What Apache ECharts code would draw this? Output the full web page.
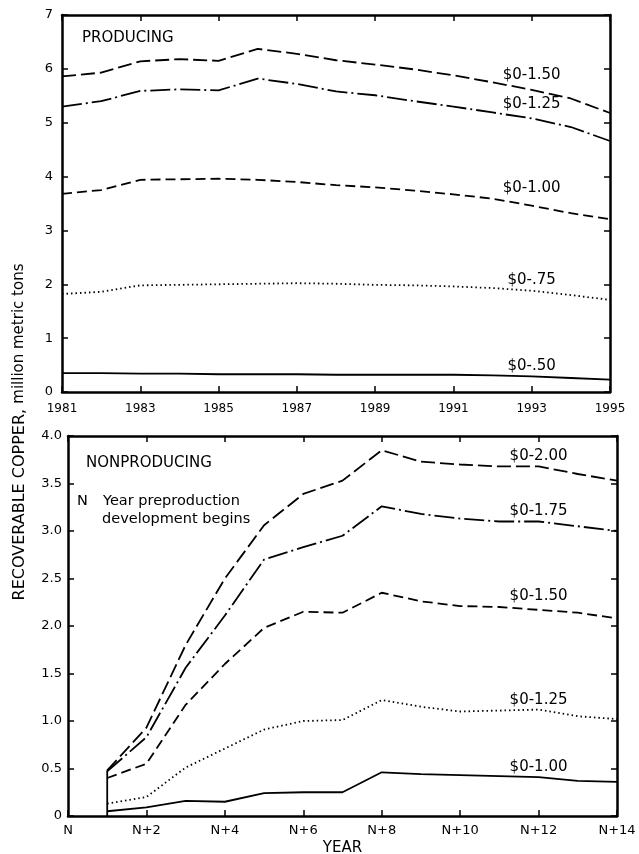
<!DOCTYPE html>
<html>
<head>
<meta charset="utf-8">
<script src="https://cdn.jsdelivr.net/npm/echarts@6/dist/echarts.min.js"></script>
<style>
html,body{margin:0;padding:0;background:#fff;}
#chart{width:639px;height:854px;}
</style>
</head>
<body>
<div id="chart"></div>
<script>
// ---------- data ----------
const prodYears = ['1981','1982','1983','1984','1985','1986','1987','1988','1989','1990','1991','1992','1993','1994','1995'];
const prodNames = ['$0-1.50','$0-1.25','$0-1.00','$0-.75','$0-.50'];
const prod150 = [5.86,5.93,6.14,6.18,6.15,6.37,6.28,6.16,6.08,5.99,5.88,5.75,5.61,5.45,5.18];
const prod125 = [5.30,5.40,5.59,5.62,5.60,5.82,5.72,5.58,5.51,5.40,5.30,5.19,5.08,4.92,4.66];
const prod100 = [3.68,3.75,3.94,3.95,3.96,3.94,3.90,3.84,3.80,3.74,3.67,3.59,3.46,3.32,3.21];
const prod075 = [1.82,1.86,1.98,1.99,2.00,2.01,2.02,2.01,1.99,1.98,1.96,1.93,1.88,1.80,1.71];
const prod050 = [0.35,0.35,0.34,0.34,0.33,0.33,0.33,0.32,0.32,0.32,0.32,0.31,0.29,0.26,0.23];
const prodYLabels = ['0','1','2','3','4','5','6','7'];

const nonX = [1,2,3,4,5,6,7,8,9,10,11,12,13,14];
const nonNames = ['$0-2.00','$0-1.75','$0-1.50','$0-1.25','$0-1.00'];
const non200 = [0.48,0.93,1.80,2.50,3.06,3.39,3.53,3.85,3.73,3.70,3.68,3.68,3.60,3.53];
const non175 = [0.47,0.83,1.56,2.11,2.70,2.83,2.95,3.26,3.18,3.13,3.10,3.10,3.05,3.00];
const non150 = [0.40,0.55,1.17,1.60,1.98,2.15,2.14,2.35,2.26,2.21,2.20,2.17,2.14,2.08];
const non125 = [0.13,0.20,0.51,0.71,0.91,1.00,1.01,1.22,1.15,1.10,1.11,1.12,1.05,1.02];
const non100 = [0.05,0.09,0.16,0.15,0.24,0.25,0.25,0.46,0.44,0.43,0.42,0.41,0.37,0.36];
const nonXLabels = ['N','N+2','N+4','N+6','N+8','N+10','N+12','N+14'];
const nonYLabels = ['0','0.5','1.0','1.5','2.0','2.5','3.0','3.5','4.0'];

// ---------- styles ----------
const FONT = 'DejaVu Sans';
const INK = '#000';
const dashStyles = [[14,5],[20,4,2,4],[10,5],[1.5,3],'solid'];

function axisLine(w){ return {show:true, onZero:false, lineStyle:{color:INK, width:w}}; }
function tick(interval){ const t = {show:true, inside:true, length:6, lineStyle:{color:INK, width:1.5}}; if(interval!==undefined) t.interval = interval; return t; }

function labelled(values, xs, idx, name, dist){
  return values.map((v,i)=>{
    const pt = xs ? [xs[i], v] : v;
    if(i!==idx) return pt;
    return {value: pt, label:{show:true, position:'top', distance:dist, formatter:name,
      color:INK, fontSize:15, fontFamily:FONT}};
  });
}

const prodSeriesVals = [prod150, prod125, prod100, prod075, prod050];
const prodDist = [7, 7, 10, 3, 3];
const nonSeriesVals = [non200, non175, non150, non125, non100];
const nonDist = [3, 3, 6, 2, 2];

const baseLine = (k)=>({
  type:'line', symbol:'circle', symbolSize:0, showSymbol:true, showAllSymbol:true, silent:true,
  itemStyle:{color:INK}, label:{show:false},
  lineStyle:{color:INK, width:1.8, type:dashStyles[k]}
});

const series = [];
prodSeriesVals.forEach((vals,k)=>{
  series.push(Object.assign(baseLine(k), {
    name:prodNames[k], xAxisIndex:0, yAxisIndex:0,
    data: labelled(vals, null, 12, prodNames[k], prodDist[k])
  }));
});
nonSeriesVals.forEach((vals,k)=>{
  series.push(Object.assign(baseLine(k), {
    name:nonNames[k], xAxisIndex:2, yAxisIndex:2,
    data: labelled(vals, nonX, 11, nonNames[k], nonDist[k])
  }));
});
// vertical start line at N+1 (from 0 up to the highest first value)
const startTop = Math.max(...nonSeriesVals.map(v=>v[0]));
series.push({
  type:'line', name:'start', xAxisIndex:2, yAxisIndex:2,
  data:[[nonX[0],0],[nonX[0],startTop]], symbol:'none', silent:true,
  lineStyle:{color:INK, width:1.8}
});

const option = {
  animation:false,
  backgroundColor:'#fff',
  textStyle:{fontFamily:FONT, color:INK},
  grid:[
    {left:62, right:29, top:15, height:377, containLabel:false, outerBoundsMode:'none'},
    {left:68, right:22, top:436, height:380, containLabel:false, outerBoundsMode:'none'}
  ],
  xAxis:[
    {gridIndex:0, type:'category', data:prodYears, boundaryGap:false, position:'bottom',
      axisLine:axisLine(2.5), axisTick:tick(1),
      axisLabel:{interval:1, color:INK, fontSize:12, fontFamily:FONT, margin:11},
      splitLine:{show:false}},
    {gridIndex:0, type:'category', data:prodYears, boundaryGap:false, position:'top',
      axisLine:axisLine(2.5), axisTick:tick(1), axisLabel:{show:false}, splitLine:{show:false}},
    {gridIndex:1, type:'value', min:0, max:14, interval:2, position:'bottom',
      axisLine:axisLine(2.5), axisTick:tick(),
      axisLabel:{color:INK, fontSize:13, fontFamily:FONT, margin:8,
        formatter:(v)=>nonXLabels[Math.round(v/2)]},
      splitLine:{show:false},
      name:'YEAR', nameLocation:'middle', nameGap:25,
      nameTextStyle:{color:INK, fontSize:15, fontFamily:FONT}},
    {gridIndex:1, type:'value', min:0, max:14, interval:2, position:'top',
      axisLine:axisLine(2.5), axisTick:tick(), axisLabel:{show:false}, splitLine:{show:false}}
  ],
  yAxis:[
    {gridIndex:0, type:'value', min:0, max:7, interval:1, position:'left',
      axisLine:axisLine(2.5), axisTick:tick(),
      axisLabel:{color:INK, fontSize:13, fontFamily:FONT, margin:9,
        formatter:(v)=>prodYLabels[Math.round(v)]},
      splitLine:{show:false}},
    {gridIndex:0, type:'value', min:0, max:7, interval:1, position:'right',
      axisLine:axisLine(2.5), axisTick:tick(), axisLabel:{show:false}, splitLine:{show:false}},
    {gridIndex:1, type:'value', min:0, max:4, interval:0.5, position:'left',
      axisLine:axisLine(2.5), axisTick:tick(),
      axisLabel:{color:INK, fontSize:13, fontFamily:FONT, margin:6,
        formatter:(v)=>nonYLabels[Math.round(v/0.5)]},
      splitLine:{show:false}},
    {gridIndex:1, type:'value', min:0, max:4, interval:0.5, position:'right',
      axisLine:axisLine(2.5), axisTick:tick(), axisLabel:{show:false}, splitLine:{show:false}}
  ],
  graphic:[
    {type:'text', x:82, y:38, style:{text:'PRODUCING', font:'15px "DejaVu Sans"', fill:INK,
      align:'left', verticalAlign:'middle', textAlign:'left', textVerticalAlign:'middle'}},
    {type:'text', x:86, y:463, style:{text:'NONPRODUCING', font:'15px "DejaVu Sans"', fill:INK,
      align:'left', verticalAlign:'middle', textAlign:'left', textVerticalAlign:'middle'}},
    {type:'text', x:77, y:501, style:{text:'N', font:'14.5px "DejaVu Sans"', fill:INK,
      align:'left', verticalAlign:'middle', textAlign:'left', textVerticalAlign:'middle'}},
    {type:'text', x:103, y:501, style:{text:'Year preproduction', font:'14.5px "DejaVu Sans"', fill:INK,
      align:'left', verticalAlign:'middle', textAlign:'left', textVerticalAlign:'middle'}},
    {type:'text', x:102, y:519, style:{text:'development begins', font:'14.5px "DejaVu Sans"', fill:INK,
      align:'left', verticalAlign:'middle', textAlign:'left', textVerticalAlign:'middle'}},
    {type:'text', x:19.5, y:432, rotation:Math.PI/2,
      style:{text:'{a|RECOVERABLE COPPER,} {b|million metric tons}',
        rich:{a:{fontSize:16, fontFamily:FONT, fill:INK, color:INK}, b:{fontSize:15, fontFamily:FONT, fill:INK, color:INK}},
        fill:INK, font:'16px "DejaVu Sans"',
        align:'center', verticalAlign:'middle', textAlign:'center', textVerticalAlign:'middle'}}
  ],
  series: series
};

const chart = echarts.init(document.getElementById('chart'), null, {renderer:'canvas'});
chart.setOption(option);
</script>
</body>
</html>
